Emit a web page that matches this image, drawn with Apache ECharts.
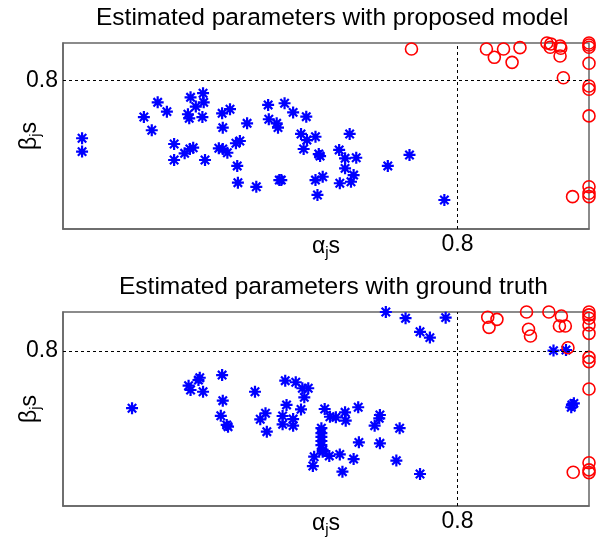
<!DOCTYPE html>
<html>
<head>
<meta charset="utf-8">
<script src="https://cdn.jsdelivr.net/npm/echarts@6/dist/echarts.min.js"></script>
<style>html,body{margin:0;padding:0;background:#fff}#c{width:597px;height:548px}</style>
</head>
<body>
<div id="c"></div>
<script>
// ---- data (alpha_j, beta_j) ----
const titles = ['Estimated parameters with proposed model', 'Estimated parameters with ground truth'];
const tickValue = 0.8;
const tickLabel = '0.8';

const topBlueX = [0.229,0.229,0.323,0.344,0.358,0.335,0.369,0.369,0.385,0.393,0.398,0.394,0.413,0.402,0.414,0.390,0.392,0.412,0.416,0.442,0.454,0.443,0.480,0.437,0.443,0.450,0.463,0.469,0.465,0.466,0.494,
  0.512,0.537,0.550,0.570,0.513,0.525,0.527,0.562,0.571,0.584,0.566,0.636,0.589,0.591,0.620,0.629,0.646,0.629,0.642,0.638,0.621,0.584,0.595,0.587,0.532,0.529,0.694,0.727,0.780];
const topBlueY = [0.488,0.416,0.602,0.681,0.631,0.531,0.457,0.371,0.407,0.430,0.437,0.708,0.730,0.658,0.681,0.617,0.595,0.602,0.371,0.622,0.644,0.545,0.568,0.434,0.430,0.410,0.461,0.473,0.339,0.249,0.227,
  0.667,0.676,0.627,0.604,0.590,0.568,0.545,0.511,0.478,0.496,0.430,0.511,0.403,0.392,0.425,0.380,0.383,0.326,0.290,0.254,0.246,0.263,0.281,0.183,0.263,0.263,0.339,0.398,0.156];
const topRedX = [0.730,0.844,0.856,0.870,0.883,0.895,0.936,0.942,0.941,0.956,0.957,0.956,0.961,1.0,1.0,1.0,1.0,1.0,1.0,1.0,1.0,1.0,1.0,0.975];
const topRedY = [0.968,0.968,0.923,0.968,0.896,0.975,1.0,0.995,0.977,0.984,0.972,0.930,0.813,1.0,0.989,0.977,0.891,0.769,0.751,0.608,0.227,0.192,0.174,0.174];

const botBlueX = [0.305,0.391,0.394,0.408,0.406,0.413,0.442,0.443,0.440,0.449,0.451,0.492,0.508,0.500,0.510,
  0.538,0.554,0.564,0.573,0.567,0.540,0.562,0.534,0.534,0.550,0.550,0.598,0.606,0.615,0.629,0.630,0.649,0.682,0.681,0.674,0.712,
  0.593,0.593,0.593,0.593,0.593,0.595,0.582,0.580,0.595,0.605,0.621,0.642,0.625,0.650,0.682,0.707,0.743,
  0.691,0.721,0.743,0.758,0.782,0.946,0.965,0.973,0.977,0.974];
const botBlueY = [0.504,0.620,0.598,0.661,0.649,0.589,0.675,0.543,0.465,0.418,0.409,0.589,0.478,0.447,0.383,
  0.646,0.638,0.607,0.607,0.560,0.521,0.498,0.464,0.421,0.448,0.414,0.500,0.460,0.457,0.483,0.440,0.509,0.469,0.452,0.414,0.401,
  0.401,0.376,0.356,0.335,0.314,0.289,0.254,0.206,0.280,0.258,0.266,0.242,0.177,0.328,0.323,0.234,0.165,
  1.0,0.968,0.898,0.868,0.971,0.801,0.804,0.509,0.529,0.521];
const botRedX = [0.846,0.860,0.848,0.905,0.908,0.911,0.939,0.958,0.955,0.964,0.968,1.0,1.0,1.0,1.0,1.0,1.0,1.0,1.0,1.0,1.0,1.0,0.976];
const botRedY = [0.973,0.962,0.921,1.0,0.911,0.876,1.0,0.979,0.928,0.928,0.816,1.0,0.985,0.968,0.933,0.890,0.766,0.744,0.603,0.223,0.186,0.172,0.174];

// ---- chart ----
const zip = (xs, ys) => xs.map((x, i) => [x, ys[i]]);
const FONT = 'Liberation Sans';
const starPath = 'path://M0,-10L0,10M-10,0L10,0M-7,-7L7,7M-7,7L7,-7';
const fmt = v => (Math.abs(v - tickValue) < 1e-6 ? tickLabel : '');
const nameRich = {
  a: {fontFamily: FONT, fontSize: 23, color: '#000'},
  j: {fontFamily: FONT, fontSize: 15, color: '#000', padding: [12, 0, 0, 0]}
};

const grids = [
  {left: 63, top: 43, width: 526, height: 186},
  {left: 63, top: 312, width: 526, height: 194}
];

function xAx(i) {
  return {
    gridIndex: i, type: 'value', min: 0.2, max: 1.0, interval: 0.2,
    axisLine: {show: true, lineStyle: {color: '#666', width: 1.5}},
    axisTick: {show: false}, splitLine: {show: false},
    axisLabel: {formatter: fmt, fontFamily: FONT, fontSize: 23, color: '#000', margin: 4, showMinLabel: true, showMaxLabel: true},
    name: '{a|α}{j|j}{a|s}', nameLocation: 'middle', nameGap: 4, nameMoveOverlap: false,
    nameTextStyle: {rich: nameRich, verticalAlign: 'top'}
  };
}
function yAx(i) {
  return {
    gridIndex: i, type: 'value', min: 0, max: 1.0, interval: 0.2,
    axisLine: {show: true, lineStyle: {color: '#666', width: 1.5}},
    axisTick: {show: false}, splitLine: {show: false},
    axisLabel: {formatter: fmt, fontFamily: FONT, fontSize: 23, color: '#000', margin: 5},
    name: '{a|β}{j|j}{a|s}', nameLocation: 'middle', nameGap: 20, nameRotate: 90, nameMoveOverlap: false,
    nameTextStyle: {rich: nameRich}
  };
}

function guide(i) {
  return {
    type: 'scatter', xAxisIndex: i, yAxisIndex: i, data: [], silent: true,
    markLine: {
      silent: true, symbol: ['none', 'none'], label: {show: false},
      lineStyle: {color: '#000', type: [3, 3], width: 1}, animation: false,
      data: [{xAxis: tickValue}, {yAxis: tickValue}]
    }
  };
}
function stars(i, xs, ys) {
  return {
    type: 'scatter', xAxisIndex: i, yAxisIndex: i, data: zip(xs, ys), clip: false,
    symbol: starPath, symbolSize: 12,
    itemStyle: {color: 'rgba(0,0,0,0)', borderColor: '#0000ff', borderWidth: 2.2, opacity: 1}
  };
}
function circles(i, xs, ys) {
  return {
    type: 'scatter', xAxisIndex: i, yAxisIndex: i, data: zip(xs, ys), clip: false,
    symbol: 'circle', symbolSize: 12,
    itemStyle: {color: 'rgba(0,0,0,0)', borderColor: '#ff0000', borderWidth: 1.6, opacity: 1}
  };
}

const chart = echarts.init(document.getElementById('c'), null, {renderer: 'canvas'});
chart.setOption({
  animation: false,
  backgroundColor: '#fff',
  title: [
    {text: titles[0], left: 91, top: 1, textStyle: {fontFamily: FONT, fontSize: 24.5, fontWeight: 'normal', color: '#000'}},
    {text: titles[1], left: 114, top: 270, textStyle: {fontFamily: FONT, fontSize: 24.5, fontWeight: 'normal', color: '#000'}}
  ],
  grid: grids.map(g => Object.assign({show: true, borderColor: '#666', borderWidth: 1.5, backgroundColor: '#fff', containLabel: false, outerBoundsMode: 'none'}, g)),
  xAxis: [xAx(0), xAx(1)],
  yAxis: [yAx(0), yAx(1)],
  series: [
    guide(0), stars(0, topBlueX, topBlueY), circles(0, topRedX, topRedY),
    guide(1), stars(1, botBlueX, botBlueY), circles(1, botRedX, botRedY)
  ]
});
</script>
</body>
</html>
